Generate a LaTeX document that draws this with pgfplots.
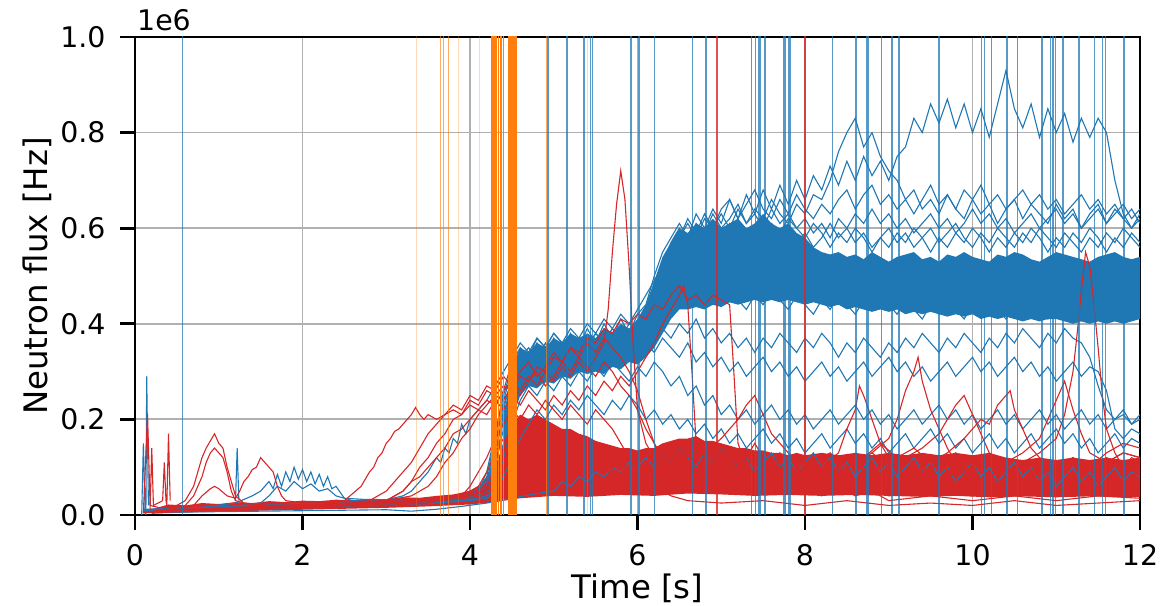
\documentclass[border=0pt]{standalone}
\usepackage{pgfplots}
\pgfplotsset{compat=1.18}
\usepgfplotslibrary{fillbetween}
\usepackage{fontspec}
\setmainfont{DejaVu Sans}
\definecolor{tabblue}{HTML}{1F77B4}
\definecolor{tabred}{HTML}{D62728}
\definecolor{taborange}{HTML}{FF7F0E}
\pgfplotsset{bl/.style={tabblue, line width=1.1bp}, rd/.style={tabred, line width=1.1bp}}
\begin{document}
\begin{tikzpicture}
\begin{axis}[
  name=ax, at={(0,0)}, anchor=south west, scale only axis,
  width=1005bp, height=478bp,
  xmin=0, xmax=12, ymin=0, ymax=1,
  xtick={0,2,4,6,8,10,12}, ytick={0,0.2,0.4,0.6,0.8,1},
  /pgf/number format/assume math mode=true,
  scaled y ticks=false,
  grid=major, grid style={color=black!31, line width=1.8bp},
  axis line style={line width=2.8bp},
  major tick length=15bp, every tick/.style={black, line width=2.8bp},
  tick align=outside, xtick pos=bottom, ytick pos=left,
  ticklabel style={font=\fontsize{28.5}{34}\selectfont},
  yticklabel style={xshift=-11bp, /pgf/number format/.cd, fixed, fixed zerofill, precision=1},
  xticklabel style={yshift=-11bp},
  label style={font=\fontsize{32.5}{38}\selectfont},
  xlabel={Time [s]}, ylabel={Neutron flux [Hz]},
  xlabel style={at={(axis description cs:0.5,-0.174)}, anchor=base},
  ylabel style={at={(axis description cs:-0.0975,0.5)}, anchor=center},
]
% ---------------- blue dense band ----------------
\addplot[draw=none, name path=bhi] coordinates {(4.4,0.2)(4.5,0.31)(4.6,0.35)(4.7,0.34)(4.8,0.36)(4.9,0.35)(5.0,0.37)(5.1,0.36)(5.2,0.38)(5.3,0.37)(5.4,0.38)(5.5,0.37)(5.6,0.39)(5.7,0.38)(5.8,0.4)(5.9,0.39)(6.0,0.41)(6.1,0.44)(6.2,0.49)(6.3,0.54)(6.4,0.57)(6.5,0.6)(6.6,0.59)(6.7,0.61)(6.8,0.6)(6.9,0.62)(7.0,0.6)(7.1,0.61)(7.2,0.62)(7.3,0.6)(7.4,0.61)(7.5,0.63)(7.6,0.61)(7.7,0.6)(7.8,0.61)(7.9,0.59)(8.0,0.58)(8.1,0.56)(8.2,0.55)(8.3,0.545)(8.4,0.55)(8.5,0.54)(8.6,0.545)(8.7,0.535)(8.8,0.55)(8.9,0.54)(9.0,0.53)(9.1,0.54)(9.2,0.545)(9.3,0.55)(9.4,0.535)(9.5,0.54)(9.6,0.53)(9.7,0.545)(9.8,0.54)(9.9,0.55)(10.0,0.54)(10.1,0.535)(10.2,0.53)(10.3,0.545)(10.4,0.54)(10.5,0.55)(10.6,0.545)(10.7,0.535)(10.8,0.53)(10.9,0.54)(11.0,0.55)(11.1,0.545)(11.2,0.54)(11.3,0.535)(11.4,0.53)(11.5,0.54)(11.6,0.545)(11.7,0.55)(11.8,0.54)(11.9,0.535)(12.0,0.54)};
\addplot[draw=none, name path=blo] coordinates {(4.4,0.12)(4.5,0.2)(4.6,0.25)(4.7,0.27)(4.8,0.265)(4.9,0.28)(5.0,0.275)(5.1,0.29)(5.2,0.285)(5.3,0.3)(5.4,0.295)(5.5,0.3)(5.6,0.295)(5.7,0.31)(5.8,0.305)(5.9,0.32)(6.0,0.315)(6.1,0.33)(6.2,0.35)(6.3,0.38)(6.4,0.41)(6.5,0.43)(6.6,0.43)(6.7,0.435)(6.8,0.43)(6.9,0.44)(7.0,0.435)(7.1,0.445)(7.2,0.44)(7.3,0.445)(7.4,0.45)(7.5,0.445)(7.6,0.45)(7.7,0.445)(7.8,0.45)(7.9,0.445)(8.0,0.44)(8.1,0.445)(8.2,0.44)(8.3,0.435)(8.4,0.44)(8.5,0.43)(8.6,0.435)(8.7,0.43)(8.8,0.425)(8.9,0.43)(9.0,0.425)(9.1,0.43)(9.2,0.42)(9.3,0.425)(9.4,0.42)(9.5,0.425)(9.6,0.42)(9.7,0.415)(9.8,0.42)(9.9,0.415)(10.0,0.42)(10.1,0.41)(10.2,0.415)(10.3,0.41)(10.4,0.415)(10.5,0.41)(10.6,0.405)(10.7,0.41)(10.8,0.405)(10.9,0.41)(11.0,0.41)(11.1,0.405)(11.2,0.4)(11.3,0.405)(11.4,0.4)(11.5,0.405)(11.6,0.4)(11.7,0.405)(11.8,0.4)(11.9,0.405)(12.0,0.41)};
\addplot[tabblue] fill between[of=bhi and blo];
% ---------------- blue lines ----------------
\addplot[bl] coordinates {(0.1,0.01)(0.4,0.012)(0.8,0.015)(1.2,0.018)(1.6,0.02)(2.0,0.022)(2.5,0.025)(3.0,0.028)(3.5,0.032)(3.9,0.038)(4.1,0.05)(4.2,0.09)(4.3,0.17)(4.4,0.25)(4.5,0.31)(4.6,0.34)(4.7,0.32)(4.8,0.36)(4.9,0.33)(5.0,0.37)(5.1,0.34)(5.2,0.38)(5.3,0.35)(5.4,0.39)(5.5,0.36)(5.6,0.4)(5.7,0.37)(5.8,0.41)(5.9,0.38)(6.0,0.42)(6.1,0.44)(6.2,0.5)(6.3,0.55)(6.4,0.58)(6.5,0.61)(6.6,0.58)(6.7,0.63)(6.8,0.6)(6.9,0.64)(7.0,0.61)(7.1,0.66)(7.2,0.62)(7.3,0.67)(7.4,0.63)(7.5,0.68)(7.6,0.64)(7.7,0.69)(7.8,0.65)(7.9,0.7)(8.0,0.66)(8.1,0.71)(8.2,0.68)(8.3,0.73)(8.4,0.69)(8.5,0.74)(8.6,0.7)(8.7,0.75)(8.8,0.71)(8.9,0.74)(9.0,0.7)(9.1,0.75)(9.2,0.77)(9.3,0.83)(9.4,0.8)(9.5,0.86)(9.6,0.82)(9.7,0.87)(9.8,0.81)(9.9,0.86)(10.0,0.8)(10.1,0.85)(10.2,0.79)(10.3,0.86)(10.4,0.93)(10.5,0.85)(10.6,0.81)(10.7,0.86)(10.8,0.79)(10.9,0.85)(11.0,0.8)(11.1,0.84)(11.2,0.78)(11.3,0.83)(11.4,0.79)(11.5,0.83)(11.6,0.8)(11.7,0.7)(11.8,0.63)(11.9,0.6)(12.0,0.62)};
\addplot[bl] coordinates {(0.1,0.008)(0.5,0.012)(1.0,0.014)(1.5,0.018)(2.0,0.02)(2.5,0.024)(3.0,0.027)(3.5,0.03)(4.0,0.036)(4.2,0.05)(4.3,0.12)(4.4,0.22)(4.5,0.29)(4.6,0.31)(4.7,0.34)(4.8,0.3)(4.9,0.33)(5.0,0.35)(5.1,0.31)(5.2,0.34)(5.3,0.37)(5.4,0.33)(5.5,0.36)(5.6,0.34)(5.7,0.38)(5.8,0.35)(5.9,0.37)(6.0,0.4)(6.1,0.43)(6.2,0.48)(6.3,0.53)(6.4,0.57)(6.5,0.6)(6.6,0.57)(6.7,0.61)(6.8,0.59)(6.9,0.63)(7.0,0.6)(7.1,0.62)(7.2,0.65)(7.3,0.61)(7.4,0.64)(7.5,0.62)(7.6,0.66)(7.7,0.63)(7.8,0.61)(7.9,0.65)(8.0,0.63)(8.1,0.67)(8.2,0.66)(8.3,0.7)(8.4,0.76)(8.5,0.8)(8.6,0.83)(8.7,0.77)(8.8,0.8)(8.9,0.75)(9.0,0.72)(9.1,0.7)(9.2,0.66)(9.3,0.68)(9.4,0.64)(9.5,0.66)(9.6,0.63)(9.7,0.67)(9.8,0.64)(9.9,0.62)(10.0,0.66)(10.1,0.63)(10.2,0.65)(10.3,0.61)(10.4,0.64)(10.5,0.66)(10.6,0.62)(10.7,0.65)(10.8,0.63)(10.9,0.61)(11.0,0.65)(11.1,0.62)(11.2,0.64)(11.3,0.6)(11.4,0.63)(11.5,0.65)(11.6,0.61)(11.7,0.64)(11.8,0.62)(11.9,0.6)(12.0,0.63)};
\addplot[bl] coordinates {(0.1,0.01)(0.5,0.013)(1.0,0.016)(1.5,0.019)(2.0,0.021)(2.5,0.023)(3.0,0.026)(3.5,0.031)(4.0,0.04)(4.2,0.06)(4.3,0.14)(4.4,0.24)(4.5,0.3)(4.6,0.33)(4.7,0.35)(4.8,0.32)(4.9,0.36)(5.0,0.33)(5.1,0.36)(5.2,0.34)(5.3,0.37)(5.4,0.35)(5.5,0.38)(5.6,0.36)(5.7,0.39)(5.8,0.37)(5.9,0.4)(6.0,0.39)(6.1,0.42)(6.2,0.47)(6.3,0.52)(6.4,0.55)(6.5,0.58)(6.6,0.62)(6.7,0.59)(6.8,0.63)(6.9,0.6)(7.0,0.64)(7.1,0.66)(7.2,0.62)(7.3,0.65)(7.4,0.68)(7.5,0.64)(7.6,0.62)(7.7,0.66)(7.8,0.63)(7.9,0.67)(8.0,0.64)(8.1,0.62)(8.2,0.65)(8.3,0.63)(8.4,0.66)(8.5,0.68)(8.6,0.64)(8.7,0.67)(8.8,0.69)(8.9,0.65)(9.0,0.67)(9.1,0.64)(9.2,0.66)(9.3,0.63)(9.4,0.66)(9.5,0.69)(9.6,0.65)(9.7,0.67)(9.8,0.64)(9.9,0.68)(10.0,0.66)(10.1,0.69)(10.2,0.65)(10.3,0.67)(10.4,0.64)(10.5,0.66)(10.6,0.68)(10.7,0.65)(10.8,0.67)(10.9,0.64)(11.0,0.66)(11.1,0.63)(11.2,0.65)(11.3,0.67)(11.4,0.64)(11.5,0.66)(11.6,0.63)(11.7,0.65)(11.8,0.62)(11.9,0.64)(12.0,0.61)};
\addplot[bl] coordinates {(0.1,0.012)(0.5,0.014)(1.0,0.017)(1.5,0.02)(2.0,0.023)(2.5,0.026)(3.0,0.029)(3.5,0.033)(4.0,0.042)(4.2,0.07)(4.3,0.15)(4.4,0.23)(4.5,0.28)(4.6,0.3)(4.7,0.28)(4.8,0.31)(4.9,0.29)(5.0,0.32)(5.1,0.3)(5.2,0.33)(5.3,0.31)(5.4,0.34)(5.5,0.32)(5.6,0.35)(5.7,0.33)(5.8,0.36)(5.9,0.34)(6.0,0.36)(6.1,0.39)(6.2,0.44)(6.3,0.49)(6.4,0.53)(6.5,0.56)(6.6,0.53)(6.7,0.57)(6.8,0.55)(6.9,0.58)(7.0,0.56)(7.1,0.54)(7.2,0.58)(7.3,0.56)(7.4,0.59)(7.5,0.57)(7.6,0.55)(7.7,0.58)(7.8,0.6)(7.9,0.57)(8.0,0.59)(8.1,0.56)(8.2,0.58)(8.3,0.61)(8.4,0.58)(8.5,0.6)(8.6,0.57)(8.7,0.59)(8.8,0.56)(8.9,0.58)(9.0,0.6)(9.1,0.57)(9.2,0.59)(9.3,0.56)(9.4,0.58)(9.5,0.6)(9.6,0.57)(9.7,0.59)(9.8,0.61)(9.9,0.58)(10.0,0.56)(10.1,0.59)(10.2,0.57)(10.3,0.6)(10.4,0.58)(10.5,0.56)(10.6,0.59)(10.7,0.57)(10.8,0.6)(10.9,0.58)(11.0,0.56)(11.1,0.59)(11.2,0.57)(11.3,0.55)(11.4,0.58)(11.5,0.56)(11.6,0.59)(11.7,0.57)(11.8,0.6)(11.9,0.58)(12.0,0.56)};
\addplot[bl] coordinates {(0.1,0.01)(1.0,0.015)(2.0,0.02)(3.0,0.027)(4.0,0.038)(4.2,0.05)(4.3,0.1)(4.4,0.2)(4.5,0.27)(4.6,0.3)(4.8,0.33)(5.0,0.31)(5.2,0.34)(5.4,0.32)(5.6,0.35)(5.8,0.33)(6.0,0.36)(6.1,0.4)(6.2,0.45)(6.3,0.51)(6.4,0.55)(6.5,0.58)(6.6,0.61)(6.7,0.58)(6.8,0.62)(6.9,0.6)(7.0,0.63)(7.1,0.6)(7.2,0.64)(7.3,0.61)(7.4,0.63)(7.5,0.6)(7.6,0.64)(7.7,0.61)(7.8,0.63)(7.9,0.6)(8.0,0.62)(8.1,0.59)(8.2,0.61)(8.3,0.58)(8.4,0.62)(8.5,0.6)(8.6,0.63)(8.7,0.61)(8.8,0.64)(8.9,0.61)(9.0,0.63)(9.1,0.6)(9.2,0.62)(9.3,0.59)(9.4,0.61)(9.5,0.63)(9.6,0.6)(9.7,0.62)(9.8,0.59)(9.9,0.61)(10.0,0.64)(10.1,0.61)(10.2,0.63)(10.3,0.6)(10.4,0.62)(10.5,0.59)(10.6,0.61)(10.7,0.63)(10.8,0.6)(10.9,0.62)(11.0,0.64)(11.1,0.61)(11.2,0.63)(11.3,0.6)(11.4,0.62)(11.5,0.64)(11.6,0.61)(11.7,0.63)(11.8,0.65)(11.9,0.62)(12.0,0.64)};
\addplot[bl] coordinates {(0.1,0.009)(0.5,0.011)(1.0,0.014)(1.5,0.025)(1.6,0.04)(1.7,0.06)(1.8,0.05)(1.9,0.07)(2.0,0.055)(2.1,0.065)(2.2,0.05)(2.3,0.055)(2.4,0.04)(2.6,0.03)(3.0,0.028)(3.5,0.033)(4.0,0.04)(4.2,0.06)(4.3,0.13)(4.4,0.21)(4.5,0.27)(4.6,0.31)(4.7,0.29)(4.8,0.32)(4.9,0.3)(5.0,0.33)(5.1,0.31)(5.2,0.35)(5.3,0.33)(5.4,0.36)(5.5,0.34)(5.6,0.37)(5.7,0.35)(5.8,0.38)(5.9,0.36)(6.0,0.38)(6.1,0.4)(6.2,0.46)(6.3,0.5)(6.4,0.54)(6.5,0.57)(6.6,0.55)(6.7,0.59)(6.8,0.57)(6.9,0.6)(7.0,0.58)(7.1,0.61)(7.2,0.59)(7.3,0.57)(7.4,0.6)(7.5,0.58)(7.6,0.61)(7.7,0.59)(7.8,0.62)(7.9,0.6)(8.0,0.58)(8.1,0.61)(8.2,0.59)(8.3,0.56)(8.4,0.59)(8.5,0.57)(8.6,0.6)(8.7,0.58)(8.8,0.55)(8.9,0.58)(9.0,0.56)(9.1,0.59)(9.2,0.57)(9.3,0.6)(9.4,0.58)(9.5,0.55)(9.6,0.58)(9.7,0.56)(9.8,0.59)(9.9,0.57)(10.0,0.6)(10.1,0.58)(10.2,0.55)(10.3,0.58)(10.4,0.56)(10.5,0.59)(10.6,0.57)(10.7,0.6)(10.8,0.58)(10.9,0.55)(11.0,0.58)(11.1,0.56)(11.2,0.59)(11.3,0.57)(11.4,0.6)(11.5,0.58)(11.6,0.55)(11.7,0.58)(11.8,0.56)(11.9,0.59)(12.0,0.57)};
\addplot[bl] coordinates {(0.1,0.01)(0.4,0.012)(0.8,0.016)(1.2,0.025)(1.4,0.04)(1.5,0.05)(1.6,0.07)(1.65,0.055)(1.7,0.085)(1.75,0.06)(1.8,0.09)(1.85,0.07)(1.9,0.1)(1.95,0.075)(2.0,0.095)(2.05,0.07)(2.1,0.09)(2.15,0.065)(2.2,0.085)(2.25,0.06)(2.3,0.08)(2.35,0.055)(2.4,0.06)(2.5,0.035)(3.0,0.03)(3.5,0.034)(4.0,0.04)(4.1,0.05)(4.2,0.08)(4.3,0.16)(4.4,0.26)(4.5,0.32)(4.6,0.35)(4.7,0.33)(4.8,0.37)(4.9,0.35)(5.0,0.38)(5.1,0.36)(5.2,0.39)(5.3,0.37)(5.4,0.4)(5.5,0.38)(5.6,0.41)(5.7,0.39)(5.8,0.42)(5.9,0.4)(6.0,0.43)(6.1,0.46)(6.2,0.49)(6.3,0.52)(6.4,0.5)(6.5,0.53)(6.6,0.5)(6.7,0.48)(6.8,0.51)(6.9,0.49)(7.0,0.52)(7.1,0.5)(7.2,0.47)(7.3,0.5)(7.4,0.48)(7.5,0.51)(7.6,0.49)(7.7,0.52)(7.8,0.5)(7.9,0.47)(8.0,0.5)(8.5,0.48)(9.0,0.5)(9.5,0.48)(10.0,0.5)(10.5,0.48)(11.0,0.5)(11.5,0.48)(12.0,0.5)};
\addplot[bl] coordinates {(0.1,0.01)(0.5,0.013)(1.0,0.016)(1.5,0.02)(2.0,0.024)(2.5,0.027)(3.0,0.032)(3.2,0.04)(3.3,0.05)(3.4,0.07)(3.5,0.09)(3.6,0.12)(3.65,0.11)(3.7,0.14)(3.75,0.13)(3.8,0.16)(3.85,0.15)(3.9,0.19)(3.95,0.17)(4.0,0.2)(4.1,0.22)(4.2,0.24)(4.3,0.27)(4.4,0.3)(4.5,0.33)(4.6,0.36)(4.7,0.34)(4.8,0.37)(4.9,0.35)(5.0,0.38)(5.1,0.36)(5.2,0.34)(5.3,0.37)(5.4,0.35)(5.5,0.38)(5.6,0.36)(5.7,0.39)(5.8,0.37)(5.9,0.35)(6.0,0.38)(6.1,0.41)(6.2,0.45)(6.3,0.48)(6.4,0.46)(6.5,0.49)(6.6,0.47)(6.7,0.45)(6.8,0.48)(6.9,0.46)(7.0,0.44)(7.1,0.47)(7.2,0.45)(7.3,0.43)(7.4,0.46)(7.5,0.44)(7.6,0.47)(7.7,0.45)(7.8,0.43)(7.9,0.46)(8.0,0.44)(8.1,0.42)(8.2,0.45)(8.3,0.43)(8.4,0.46)(8.5,0.44)(8.6,0.42)(8.7,0.45)(8.8,0.43)(8.9,0.46)(9.0,0.44)(9.1,0.42)(9.2,0.45)(9.3,0.43)(9.4,0.41)(9.5,0.44)(9.6,0.42)(9.7,0.45)(9.8,0.43)(9.9,0.41)(10.0,0.44)(10.1,0.42)(10.2,0.45)(10.3,0.43)(10.4,0.41)(10.5,0.44)(10.6,0.42)(10.7,0.45)(10.8,0.43)(10.9,0.41)(11.0,0.44)(11.1,0.42)(11.2,0.45)(11.3,0.43)(11.4,0.41)(11.5,0.44)(11.6,0.42)(11.7,0.45)(11.8,0.43)(11.9,0.41)(12.0,0.44)};
\addplot[bl] coordinates {(0.1,0.009)(0.5,0.011)(1.0,0.013)(1.5,0.016)(2.0,0.018)(2.5,0.021)(3.0,0.024)(3.5,0.028)(4.0,0.035)(4.2,0.05)(4.3,0.1)(4.4,0.18)(4.5,0.25)(4.6,0.29)(4.7,0.27)(4.8,0.3)(4.9,0.28)(5.0,0.31)(5.1,0.29)(5.2,0.32)(5.3,0.3)(5.4,0.33)(5.5,0.31)(5.6,0.34)(5.7,0.32)(5.8,0.35)(5.9,0.33)(6.0,0.35)(6.1,0.37)(6.2,0.36)(6.3,0.39)(6.4,0.37)(6.5,0.4)(6.6,0.38)(6.7,0.41)(6.8,0.37)(6.9,0.39)(7.0,0.36)(7.1,0.38)(7.2,0.35)(7.3,0.37)(7.4,0.34)(7.5,0.37)(7.6,0.35)(7.7,0.38)(7.8,0.36)(7.9,0.34)(8.0,0.37)(8.1,0.35)(8.2,0.38)(8.3,0.36)(8.4,0.33)(8.5,0.36)(8.6,0.34)(8.7,0.37)(8.8,0.35)(8.9,0.33)(9.0,0.36)(9.1,0.34)(9.2,0.37)(9.3,0.35)(9.4,0.38)(9.5,0.36)(9.6,0.34)(9.7,0.37)(9.8,0.35)(9.9,0.38)(10.0,0.36)(10.1,0.34)(10.2,0.37)(10.3,0.35)(10.4,0.38)(10.5,0.36)(10.6,0.39)(10.7,0.37)(10.8,0.35)(10.9,0.38)(11.0,0.36)(11.1,0.39)(11.2,0.37)(11.3,0.36)(11.4,0.33)(11.5,0.27)(11.6,0.22)(11.7,0.2)(11.8,0.21)(11.9,0.19)(12.0,0.2)};
\addplot[bl] coordinates {(0.1,0.01)(0.5,0.012)(1.0,0.015)(1.5,0.017)(2.0,0.02)(2.5,0.022)(3.0,0.025)(3.5,0.03)(4.0,0.037)(4.2,0.045)(4.3,0.08)(4.4,0.15)(4.5,0.22)(4.6,0.26)(4.7,0.29)(4.8,0.27)(4.9,0.3)(5.0,0.28)(5.1,0.31)(5.2,0.29)(5.3,0.32)(5.4,0.3)(5.5,0.33)(5.6,0.31)(5.7,0.34)(5.8,0.32)(5.9,0.35)(6.0,0.33)(6.1,0.36)(6.2,0.34)(6.3,0.37)(6.4,0.35)(6.5,0.33)(6.6,0.36)(6.7,0.32)(6.8,0.34)(6.9,0.31)(7.0,0.33)(7.1,0.3)(7.2,0.32)(7.3,0.29)(7.4,0.31)(7.5,0.33)(7.6,0.3)(7.7,0.32)(7.8,0.29)(7.9,0.31)(8.0,0.28)(8.1,0.3)(8.2,0.32)(8.3,0.29)(8.4,0.31)(8.5,0.28)(8.6,0.3)(8.7,0.32)(8.8,0.29)(8.9,0.31)(9.0,0.33)(9.1,0.3)(9.2,0.32)(9.3,0.29)(9.4,0.31)(9.5,0.28)(9.6,0.3)(9.7,0.32)(9.8,0.29)(9.9,0.31)(10.0,0.33)(10.1,0.3)(10.2,0.32)(10.3,0.29)(10.4,0.31)(10.5,0.33)(10.6,0.3)(10.7,0.32)(10.8,0.29)(10.9,0.31)(11.0,0.28)(11.1,0.3)(11.2,0.32)(11.3,0.29)(11.4,0.31)(11.5,0.3)(11.6,0.26)(11.7,0.18)(11.8,0.16)(11.9,0.18)(12.0,0.17)};
\addplot[bl] coordinates {(0.1,0.008)(0.5,0.01)(1.0,0.012)(1.5,0.014)(2.0,0.017)(2.5,0.019)(3.0,0.022)(3.5,0.026)(4.0,0.032)(4.2,0.04)(4.3,0.06)(4.4,0.12)(4.5,0.19)(4.6,0.24)(4.7,0.27)(4.8,0.25)(4.9,0.28)(5.0,0.26)(5.1,0.29)(5.2,0.27)(5.3,0.3)(5.4,0.28)(5.5,0.31)(5.6,0.29)(5.7,0.32)(5.8,0.3)(5.9,0.28)(6.0,0.31)(6.1,0.29)(6.2,0.32)(6.3,0.3)(6.4,0.27)(6.5,0.29)(6.6,0.25)(6.7,0.27)(6.8,0.23)(6.9,0.25)(7.0,0.21)(7.1,0.23)(7.2,0.2)(7.3,0.22)(7.4,0.19)(7.5,0.21)(7.6,0.23)(7.7,0.2)(7.8,0.22)(7.9,0.19)(8.0,0.21)(8.1,0.18)(8.2,0.2)(8.3,0.22)(8.4,0.19)(8.5,0.21)(8.6,0.23)(8.7,0.2)(8.8,0.22)(8.9,0.19)(9.0,0.21)(9.1,0.18)(9.2,0.2)(9.3,0.22)(9.4,0.19)(9.5,0.21)(9.6,0.23)(9.7,0.2)(9.8,0.22)(9.9,0.19)(10.0,0.21)(10.1,0.18)(10.2,0.2)(10.3,0.22)(10.4,0.19)(10.5,0.21)(10.6,0.18)(10.7,0.2)(10.8,0.22)(10.9,0.19)(11.0,0.21)(11.1,0.18)(11.2,0.2)(11.3,0.22)(11.4,0.19)(11.5,0.21)(11.6,0.18)(11.7,0.2)(11.8,0.22)(11.9,0.19)(12.0,0.21)};
\addplot[bl] coordinates {(0.1,0.007)(0.5,0.009)(1.0,0.011)(1.5,0.013)(2.0,0.015)(2.5,0.017)(3.0,0.02)(3.5,0.024)(4.0,0.03)(4.2,0.035)(4.3,0.05)(4.4,0.08)(4.5,0.12)(4.6,0.16)(4.7,0.19)(4.8,0.22)(4.9,0.2)(5.0,0.23)(5.1,0.21)(5.2,0.24)(5.3,0.22)(5.4,0.25)(5.5,0.23)(5.6,0.21)(5.7,0.24)(5.8,0.22)(5.9,0.25)(6.0,0.23)(6.1,0.2)(6.2,0.22)(6.3,0.19)(6.4,0.21)(6.5,0.18)(6.6,0.2)(6.7,0.17)(6.8,0.19)(6.9,0.16)(7.0,0.18)(7.1,0.15)(7.2,0.17)(7.3,0.14)(7.4,0.16)(7.5,0.18)(7.6,0.15)(7.7,0.17)(7.8,0.14)(7.9,0.16)(8.0,0.13)(8.1,0.15)(8.2,0.17)(8.3,0.14)(8.4,0.16)(8.5,0.18)(8.6,0.15)(8.7,0.17)(8.8,0.14)(8.9,0.16)(9.0,0.13)(9.1,0.15)(9.2,0.17)(9.3,0.14)(9.4,0.16)(9.5,0.18)(9.6,0.15)(9.7,0.17)(9.8,0.14)(9.9,0.16)(10.0,0.13)(10.1,0.15)(10.2,0.17)(10.3,0.14)(10.4,0.16)(10.5,0.13)(10.6,0.15)(10.7,0.17)(10.8,0.14)(10.9,0.16)(11.0,0.18)(11.1,0.15)(11.2,0.17)(11.3,0.14)(11.4,0.16)(11.5,0.13)(11.6,0.15)(11.7,0.17)(11.8,0.14)(11.9,0.16)(12.0,0.15)};
\addplot[bl] coordinates {(0.1,0.005)(0.5,0.006)(1.0,0.007)(1.5,0.008)(2.0,0.009)(2.5,0.01)(3.0,0.011)(3.3,0.008)(3.6,0.012)(3.9,0.018)(4.2,0.025)(4.5,0.035)(4.8,0.045)(5.0,0.05)(5.1,0.07)(5.2,0.06)(5.3,0.08)(5.4,0.07)(5.5,0.09)(5.6,0.08)(5.7,0.1)(5.8,0.09)(5.9,0.11)(6.0,0.1)(6.1,0.12)(6.2,0.1)(6.3,0.13)(6.4,0.11)(6.5,0.14)(6.6,0.12)(6.7,0.1)(6.8,0.13)(6.9,0.11)(7.0,0.14)(7.1,0.12)(7.2,0.1)(7.3,0.12)(7.4,0.09)(7.5,0.11)(7.6,0.13)(7.7,0.1)(7.8,0.12)(7.9,0.09)(8.0,0.11)(8.1,0.13)(8.2,0.1)(8.3,0.12)(8.4,0.09)(8.5,0.11)(8.6,0.08)(8.7,0.1)(8.8,0.12)(8.9,0.09)(9.0,0.11)(9.1,0.08)(9.2,0.1)(9.3,0.12)(9.4,0.09)(9.5,0.11)(9.6,0.08)(9.7,0.1)(9.8,0.07)(9.9,0.09)(10.0,0.11)(10.1,0.08)(10.2,0.1)(10.3,0.07)(10.4,0.09)(10.5,0.11)(10.6,0.08)(10.7,0.1)(10.8,0.07)(10.9,0.09)(11.0,0.06)(11.1,0.08)(11.2,0.1)(11.3,0.07)(11.4,0.09)(11.5,0.06)(11.6,0.08)(11.7,0.1)(11.8,0.07)(11.9,0.09)(12.0,0.08)};
\addplot[bl] coordinates {(0.08,0.0)(0.1,0.15)(0.12,0.01)(0.13,0.0)(0.14,0.29)(0.16,0.02)};
\addplot[bl] coordinates {(1.2,0.03)(1.22,0.14)(1.24,0.03)};
% ---------------- red dense band ----------------
\addplot[draw=none, name path=rhi] coordinates {(0.2,0.012)(0.4,0.022)(0.6,0.02)(0.8,0.025)(1.0,0.023)(1.2,0.027)(1.4,0.025)(1.6,0.029)(1.8,0.027)(2.0,0.03)(2.2,0.029)(2.4,0.032)(2.6,0.031)(2.8,0.034)(3.0,0.033)(3.2,0.037)(3.4,0.036)(3.6,0.04)(3.8,0.043)(4.0,0.05)(4.1,0.06)(4.2,0.08)(4.3,0.1)(4.4,0.15)(4.5,0.19)(4.6,0.21)(4.7,0.2)(4.8,0.21)(4.9,0.2)(5.0,0.19)(5.1,0.18)(5.2,0.18)(5.3,0.17)(5.4,0.165)(5.5,0.155)(5.6,0.15)(5.7,0.145)(5.8,0.14)(5.9,0.14)(6.0,0.135)(6.1,0.14)(6.2,0.14)(6.3,0.15)(6.4,0.155)(6.5,0.16)(6.6,0.16)(6.7,0.165)(6.8,0.155)(6.9,0.155)(7.0,0.15)(7.1,0.145)(7.2,0.14)(7.3,0.14)(7.4,0.135)(7.5,0.135)(7.6,0.13)(7.7,0.13)(7.8,0.125)(7.9,0.13)(8.0,0.125)(8.2,0.13)(8.4,0.125)(8.6,0.13)(8.8,0.125)(9.0,0.13)(9.2,0.125)(9.4,0.13)(9.6,0.125)(9.8,0.13)(10.0,0.125)(10.2,0.13)(10.4,0.12)(10.6,0.115)(10.8,0.12)(11.0,0.115)(11.2,0.12)(11.4,0.115)(11.6,0.12)(11.8,0.115)(12.0,0.12)};
\addplot[draw=none, name path=rlo] coordinates {(0.2,0.003)(0.6,0.005)(1.0,0.007)(1.5,0.009)(2.0,0.011)(2.5,0.013)(3.0,0.015)(3.5,0.018)(4.0,0.022)(4.3,0.027)(4.6,0.035)(5.0,0.04)(5.4,0.038)(5.8,0.042)(6.2,0.04)(6.6,0.045)(7.0,0.043)(7.4,0.04)(7.8,0.042)(8.2,0.04)(8.6,0.042)(9.0,0.04)(9.4,0.038)(9.8,0.04)(10.2,0.037)(10.6,0.039)(11.0,0.037)(11.4,0.039)(11.8,0.037)(12.0,0.038)};
\addplot[tabred] fill between[of=rhi and rlo];
% ---------------- red lines ----------------
\addplot[rd] coordinates {(0.1,0.005)(0.15,0.21)(0.18,0.02)(0.3,0.015)(0.5,0.02)(0.6,0.03)(0.7,0.06)(0.75,0.09)(0.8,0.12)(0.85,0.14)(0.9,0.155)(0.95,0.17)(1.0,0.15)(1.05,0.14)(1.1,0.1)(1.15,0.07)(1.2,0.04)(1.3,0.025)(1.6,0.02)(2.0,0.022)(2.5,0.024)(3.0,0.027)(3.5,0.033)(4.0,0.045)(4.2,0.06)(4.3,0.1)(4.4,0.14)(4.5,0.17)(4.6,0.15)(4.7,0.18)(4.8,0.14)(4.9,0.12)(5.0,0.15)(5.1,0.11)(5.2,0.13)(5.3,0.1)(5.4,0.12)(5.5,0.09)(5.6,0.11)(5.7,0.08)(5.8,0.1)(5.9,0.07)(6.0,0.09)(6.1,0.11)(6.2,0.08)(6.3,0.1)(6.4,0.12)(6.5,0.09)(6.6,0.11)(6.7,0.08)(6.8,0.1)(6.9,0.07)(7.0,0.09)(7.1,0.06)(7.2,0.08)(7.3,0.1)(7.4,0.07)(7.5,0.09)(7.6,0.06)(7.7,0.08)(7.8,0.1)(7.9,0.07)(8.0,0.09)(8.2,0.06)(8.4,0.08)(8.6,0.05)(8.8,0.07)(9.0,0.09)(9.2,0.06)(9.4,0.08)(9.6,0.05)(9.8,0.07)(10.0,0.09)(10.2,0.06)(10.4,0.08)(10.6,0.05)(10.8,0.07)(11.0,0.09)(11.2,0.06)(11.4,0.08)(11.6,0.05)(11.8,0.07)(12.0,0.06)};
\addplot[rd] coordinates {(0.2,0.005)(0.4,0.01)(0.6,0.02)(0.7,0.04)(0.8,0.08)(0.85,0.11)(0.9,0.13)(0.95,0.14)(1.0,0.13)(1.05,0.12)(1.1,0.09)(1.15,0.05)(1.2,0.03)(1.4,0.02)(2.0,0.02)(2.5,0.022)(3.0,0.03)(3.3,0.04)(3.5,0.06)(3.6,0.08)(3.7,0.11)(3.8,0.13)(3.9,0.16)(4.0,0.18)(4.1,0.21)(4.2,0.23)(4.3,0.25)(4.4,0.24)(4.5,0.27)(4.6,0.25)(4.7,0.28)(4.8,0.3)(4.9,0.27)(5.0,0.29)(5.1,0.32)(5.2,0.3)(5.3,0.33)(5.4,0.31)(5.5,0.29)(5.6,0.32)(5.7,0.3)(5.8,0.27)(5.9,0.25)(6.0,0.22)(6.1,0.18)(6.2,0.15)(6.3,0.12)(6.4,0.1)(6.5,0.08)(6.6,0.1)(6.8,0.07)(7.0,0.09)(7.2,0.06)(7.4,0.08)(7.6,0.05)(7.8,0.07)(8.0,0.05)(8.2,0.04)(8.4,0.06)(8.6,0.04)(8.8,0.05)(9.0,0.03)(9.5,0.04)(10.0,0.03)(10.5,0.04)(11.0,0.03)(11.5,0.04)(12.0,0.035)};
\addplot[rd] coordinates {(0.1,0.005)(0.3,0.01)(0.5,0.015)(0.7,0.02)(0.8,0.04)(0.9,0.055)(0.95,0.06)(1.0,0.055)(1.1,0.04)(1.2,0.035)(1.25,0.05)(1.3,0.07)(1.35,0.08)(1.4,0.095)(1.45,0.1)(1.5,0.12)(1.55,0.11)(1.6,0.1)(1.65,0.09)(1.7,0.06)(1.75,0.04)(1.8,0.03)(2.0,0.025)(2.5,0.027)(3.0,0.03)(3.5,0.035)(3.8,0.04)(4.0,0.05)(4.1,0.06)(4.2,0.09)(4.3,0.13)(4.4,0.16)(4.5,0.14)(4.6,0.18)(4.7,0.15)(4.8,0.12)(4.9,0.14)(5.0,0.11)(5.1,0.13)(5.2,0.1)(5.3,0.12)(5.4,0.09)(5.5,0.11)(5.6,0.13)(5.7,0.1)(5.8,0.12)(5.9,0.09)(6.0,0.11)(6.1,0.08)(6.2,0.1)(6.3,0.13)(6.4,0.11)(6.5,0.14)(6.6,0.12)(6.7,0.16)(6.8,0.13)(6.9,0.11)(7.0,0.14)(7.1,0.12)(7.2,0.1)(7.3,0.12)(7.4,0.15)(7.5,0.12)(7.6,0.1)(7.7,0.13)(7.8,0.11)(7.9,0.09)(8.0,0.12)(8.2,0.1)(8.4,0.13)(8.5,0.18)(8.6,0.22)(8.65,0.27)(8.7,0.25)(8.8,0.2)(8.9,0.15)(9.0,0.12)(9.1,0.1)(9.2,0.12)(9.4,0.09)(9.6,0.11)(9.8,0.08)(10.0,0.1)(10.2,0.12)(10.4,0.09)(10.6,0.11)(10.8,0.08)(11.0,0.1)(11.2,0.12)(11.4,0.09)(11.6,0.11)(11.8,0.13)(12.0,0.12)};
\addplot[rd] coordinates {(0.1,0.005)(0.5,0.012)(1.0,0.015)(1.5,0.018)(2.0,0.02)(2.3,0.022)(2.5,0.03)(2.6,0.045)(2.7,0.06)(2.75,0.075)(2.8,0.09)(2.85,0.1)(2.9,0.12)(2.95,0.13)(3.0,0.15)(3.05,0.16)(3.1,0.175)(3.15,0.18)(3.2,0.19)(3.25,0.2)(3.3,0.21)(3.35,0.225)(3.4,0.21)(3.45,0.2)(3.5,0.21)(3.6,0.2)(3.7,0.21)(3.8,0.22)(3.9,0.21)(4.0,0.23)(4.1,0.22)(4.2,0.24)(4.3,0.23)(4.4,0.26)(4.5,0.28)(4.6,0.26)(4.7,0.29)(4.8,0.27)(4.9,0.3)(5.0,0.28)(5.1,0.31)(5.2,0.29)(5.3,0.32)(5.4,0.3)(5.5,0.33)(5.6,0.36)(5.65,0.43)(5.7,0.55)(5.75,0.65)(5.8,0.72)(5.85,0.66)(5.9,0.52)(5.95,0.35)(6.0,0.22)(6.1,0.15)(6.2,0.12)(6.3,0.1)(6.4,0.12)(6.5,0.09)(6.7,0.11)(6.9,0.08)(7.1,0.1)(7.3,0.07)(7.5,0.09)(7.7,0.06)(7.9,0.08)(8.1,0.05)(8.3,0.07)(8.5,0.05)(8.7,0.06)(9.0,0.04)(9.5,0.05)(10.0,0.04)(10.5,0.05)(11.0,0.04)(11.5,0.05)(12.0,0.045)};
\addplot[rd] coordinates {(0.1,0.005)(0.5,0.01)(1.0,0.014)(1.5,0.017)(2.0,0.02)(2.5,0.024)(3.0,0.03)(3.2,0.05)(3.3,0.07)(3.4,0.1)(3.5,0.12)(3.6,0.15)(3.7,0.17)(3.8,0.2)(3.9,0.21)(4.0,0.24)(4.1,0.23)(4.2,0.26)(4.3,0.25)(4.4,0.27)(4.5,0.26)(4.6,0.29)(4.7,0.28)(4.8,0.31)(4.9,0.3)(5.0,0.33)(5.1,0.32)(5.2,0.35)(5.3,0.34)(5.4,0.37)(5.5,0.36)(5.6,0.39)(5.7,0.38)(5.8,0.41)(5.9,0.4)(6.0,0.42)(6.1,0.41)(6.2,0.44)(6.3,0.43)(6.4,0.46)(6.5,0.48)(6.6,0.45)(6.7,0.46)(6.8,0.44)(6.9,0.46)(7.0,0.45)(7.1,0.44)(7.15,0.3)(7.2,0.15)(7.3,0.1)(7.5,0.08)(7.7,0.1)(7.9,0.07)(8.1,0.09)(8.3,0.06)(8.5,0.08)(8.7,0.05)(9.0,0.07)(9.3,0.05)(9.6,0.07)(10.0,0.05)(10.5,0.06)(11.0,0.05)(11.5,0.06)(12.0,0.05)};
\addplot[rd] coordinates {(0.1,0.005)(0.5,0.01)(1.0,0.013)(1.5,0.016)(2.0,0.019)(2.5,0.022)(2.8,0.025)(3.0,0.03)(3.1,0.04)(3.2,0.05)(3.3,0.07)(3.4,0.08)(3.5,0.1)(3.6,0.12)(3.7,0.14)(3.8,0.17)(3.9,0.18)(4.0,0.2)(4.1,0.22)(4.2,0.21)(4.3,0.24)(4.4,0.22)(4.5,0.25)(4.6,0.23)(4.7,0.26)(4.8,0.24)(4.9,0.22)(5.0,0.25)(5.1,0.23)(5.2,0.26)(5.3,0.24)(5.4,0.27)(5.5,0.25)(5.6,0.28)(5.7,0.26)(5.8,0.29)(5.9,0.27)(6.0,0.3)(6.1,0.33)(6.2,0.36)(6.3,0.4)(6.4,0.43)(6.5,0.46)(6.55,0.48)(6.6,0.44)(6.65,0.3)(6.7,0.15)(6.8,0.12)(6.9,0.14)(7.0,0.11)(7.2,0.13)(7.4,0.1)(7.6,0.12)(7.8,0.09)(8.0,0.11)(8.2,0.08)(8.4,0.1)(8.6,0.07)(8.8,0.09)(9.0,0.11)(9.2,0.08)(9.4,0.1)(9.6,0.07)(9.8,0.09)(10.0,0.11)(10.2,0.08)(10.4,0.1)(10.6,0.07)(10.8,0.09)(11.0,0.11)(11.2,0.08)(11.4,0.1)(11.6,0.12)(11.8,0.1)(12.0,0.12)};
\addplot[rd] coordinates {(0.2,0.005)(0.6,0.01)(1.0,0.012)(1.5,0.015)(2.0,0.018)(2.5,0.02)(3.0,0.025)(3.5,0.03)(4.0,0.04)(4.2,0.05)(4.3,0.08)(4.4,0.12)(4.5,0.1)(4.6,0.13)(4.7,0.11)(4.8,0.14)(4.9,0.12)(5.0,0.1)(5.2,0.12)(5.4,0.09)(5.6,0.11)(5.8,0.08)(6.0,0.1)(6.2,0.07)(6.4,0.09)(6.6,0.11)(6.8,0.08)(7.0,0.1)(7.2,0.12)(7.4,0.09)(7.6,0.11)(7.8,0.08)(8.0,0.1)(8.2,0.12)(8.4,0.09)(8.6,0.11)(8.8,0.13)(9.0,0.16)(9.1,0.2)(9.2,0.26)(9.3,0.3)(9.35,0.33)(9.4,0.28)(9.5,0.22)(9.6,0.18)(9.7,0.14)(9.8,0.11)(10.0,0.09)(10.2,0.11)(10.4,0.08)(10.6,0.1)(10.8,0.07)(11.0,0.09)(11.2,0.11)(11.4,0.08)(11.6,0.1)(11.8,0.07)(12.0,0.09)};
\addplot[rd] coordinates {(0.2,0.006)(0.6,0.01)(1.0,0.013)(1.5,0.016)(2.0,0.019)(2.5,0.021)(3.0,0.026)(3.5,0.032)(4.0,0.042)(4.2,0.055)(4.3,0.07)(4.4,0.1)(4.5,0.13)(4.6,0.11)(4.7,0.14)(4.8,0.12)(4.9,0.15)(5.0,0.13)(5.1,0.11)(5.3,0.13)(5.5,0.1)(5.7,0.12)(5.9,0.09)(6.1,0.11)(6.3,0.13)(6.5,0.1)(6.7,0.12)(6.9,0.09)(7.1,0.11)(7.3,0.13)(7.5,0.1)(7.7,0.12)(7.9,0.09)(8.1,0.11)(8.3,0.13)(8.5,0.1)(8.7,0.12)(8.9,0.15)(9.1,0.12)(9.3,0.14)(9.5,0.11)(9.7,0.13)(9.9,0.16)(10.0,0.18)(10.1,0.2)(10.2,0.19)(10.3,0.23)(10.4,0.25)(10.45,0.26)(10.5,0.22)(10.6,0.18)(10.7,0.14)(10.8,0.12)(11.0,0.1)(11.2,0.12)(11.4,0.1)(11.6,0.13)(11.8,0.15)(12.0,0.14)};
\addplot[rd] coordinates {(0.2,0.006)(0.6,0.011)(1.0,0.013)(1.5,0.015)(2.0,0.018)(2.5,0.02)(3.0,0.024)(3.5,0.03)(4.0,0.04)(4.2,0.05)(4.3,0.09)(4.4,0.13)(4.5,0.16)(4.6,0.14)(4.7,0.17)(4.8,0.15)(4.9,0.13)(5.0,0.15)(5.2,0.12)(5.4,0.14)(5.6,0.11)(5.8,0.13)(6.0,0.1)(6.2,0.12)(6.4,0.14)(6.6,0.11)(6.8,0.13)(7.0,0.1)(7.2,0.12)(7.4,0.09)(7.6,0.11)(7.8,0.08)(8.0,0.1)(8.2,0.12)(8.4,0.09)(8.6,0.11)(8.8,0.08)(9.0,0.1)(9.2,0.12)(9.4,0.09)(9.6,0.11)(9.8,0.13)(10.0,0.1)(10.2,0.12)(10.4,0.09)(10.6,0.11)(10.8,0.13)(11.0,0.16)(11.1,0.21)(11.2,0.3)(11.25,0.38)(11.3,0.47)(11.35,0.55)(11.4,0.52)(11.45,0.44)(11.5,0.35)(11.55,0.25)(11.6,0.18)(11.7,0.13)(11.8,0.1)(11.9,0.12)(12.0,0.11)};
\addplot[rd] coordinates {(0.2,0.005)(0.6,0.009)(1.0,0.011)(1.5,0.014)(2.0,0.016)(2.5,0.019)(3.0,0.023)(3.5,0.028)(4.0,0.036)(4.2,0.045)(4.3,0.06)(4.4,0.09)(4.5,0.12)(4.6,0.1)(4.7,0.13)(4.8,0.11)(5.0,0.13)(5.2,0.1)(5.4,0.12)(5.6,0.09)(5.8,0.11)(6.0,0.08)(6.2,0.1)(6.4,0.12)(6.6,0.15)(6.8,0.13)(7.0,0.16)(7.2,0.2)(7.3,0.23)(7.4,0.25)(7.5,0.21)(7.6,0.17)(7.8,0.13)(8.0,0.1)(8.2,0.12)(8.4,0.09)(8.6,0.11)(8.8,0.13)(9.0,0.1)(9.2,0.12)(9.4,0.14)(9.6,0.17)(9.7,0.2)(9.8,0.23)(9.9,0.25)(10.0,0.21)(10.1,0.17)(10.2,0.13)(10.4,0.11)(10.6,0.13)(10.8,0.16)(10.9,0.2)(11.0,0.24)(11.1,0.28)(11.2,0.22)(11.3,0.17)(11.4,0.13)(11.6,0.11)(11.8,0.13)(12.0,0.12)};
\addplot[rd] coordinates {(0.2,0.004)(0.6,0.008)(1.0,0.01)(1.5,0.012)(2.0,0.014)(2.5,0.016)(3.0,0.02)(3.5,0.025)(3.9,0.04)(4.0,0.06)(4.1,0.09)(4.2,0.12)(4.3,0.16)(4.4,0.19)(4.5,0.22)(4.6,0.2)(4.7,0.23)(4.8,0.21)(4.9,0.24)(5.0,0.22)(5.1,0.2)(5.2,0.23)(5.3,0.21)(5.4,0.19)(5.5,0.22)(5.6,0.2)(5.7,0.18)(5.8,0.15)(5.9,0.12)(6.0,0.09)(6.2,0.06)(6.4,0.04)(6.6,0.03)(7.0,0.025)(7.5,0.03)(8.0,0.02)(8.5,0.03)(9.0,0.02)(9.5,0.025)(10.0,0.02)(10.5,0.03)(11.0,0.02)(11.5,0.025)(12.0,0.03)};
\addplot[rd] coordinates {(0.2,0.005)(0.6,0.01)(1.0,0.013)(1.5,0.016)(2.0,0.019)(2.5,0.023)(2.8,0.03)(3.0,0.05)(3.1,0.07)(3.2,0.09)(3.3,0.11)(3.4,0.14)(3.5,0.17)(3.6,0.19)(3.7,0.21)(3.8,0.23)(3.9,0.22)(4.0,0.25)(4.1,0.24)(4.2,0.27)(4.3,0.26)(4.4,0.29)(4.5,0.27)(4.6,0.3)(4.7,0.32)(4.8,0.29)(4.9,0.31)(5.0,0.34)(5.1,0.32)(5.2,0.35)(5.3,0.33)(5.4,0.36)(5.5,0.34)(5.6,0.37)(5.7,0.35)(5.8,0.33)(5.9,0.3)(6.0,0.26)(6.1,0.2)(6.2,0.15)(6.3,0.11)(6.4,0.09)(6.6,0.11)(6.8,0.08)(7.0,0.1)(7.2,0.07)(7.4,0.09)(7.6,0.06)(7.8,0.08)(8.0,0.06)(8.5,0.07)(9.0,0.05)(9.5,0.06)(10.0,0.05)(10.5,0.06)(11.0,0.05)(11.5,0.06)(12.0,0.05)};
\addplot[rd] coordinates {(0.18,0.01)(0.2,0.14)(0.22,0.02)(0.33,0.03)(0.35,0.11)(0.37,0.03)(0.38,0.02)(0.4,0.17)(0.42,0.03)};
% ---------------- vertical spikes ----------------
\addplot[ycomb, taborange, opacity=0.3, line width=1.3bp] coordinates {(3.36,1.1)(3.86,1.1)(4.11,1.1)(5.40,1.1)};
\addplot[ycomb, taborange, opacity=0.65, line width=1.3bp] coordinates {(3.65,1.1)(3.68,1.1)(3.74,1.1)(4.91,1.1)};
\addplot[ycomb, taborange, line width=1.5bp] coordinates {(4.26,1.1)(4.285,1.1)(4.31,1.1)(4.34,1.1)(4.37,1.1)(4.40,1.1)(4.46,1.1)(4.475,1.1)(4.49,1.1)(4.505,1.1)(4.52,1.1)(4.535,1.1)(4.55,1.1)};
\addplot[ycomb, tabblue, opacity=0.75, line width=1.4bp] coordinates {(0.57,1.1)(4.93,1.1)(5.16,1.1)(5.36,1.1)(5.44,1.1)(5.46,1.1)(5.92,1.1)(6.02,1.1)(6.20,1.1)(6.66,1.1)(6.82,1.1)(7.36,1.1)(7.41,1.1)(7.45,1.1)(7.47,1.1)(7.52,1.1)(7.74,1.1)(7.76,1.1)(7.81,1.1)(7.83,1.1)(8.33,1.1)(8.61,1.1)(8.74,1.1)(8.75,1.1)(8.91,1.1)(9.04,1.1)(9.12,1.1)(9.60,1.1)(10.11,1.1)(10.14,1.1)(10.23,1.1)(10.41,1.1)(10.54,1.1)(10.83,1.1)(10.93,1.1)(10.96,1.1)(10.99,1.1)(11.08,1.1)(11.27,1.1)(11.46,1.1)(11.55,1.1)(11.59,1.1)(11.81,1.1)};
\addplot[ycomb, tabred, opacity=0.8, line width=1.6bp] coordinates {(6.95,1.1)(8.0,1.1)};
\end{axis}
\node[anchor=base west, inner sep=0pt, font=\fontsize{28.5}{34}\selectfont] at ([xshift=2bp, yshift=6bp]ax.north west) {1e6};
\pgfresetboundingbox
\path[use as bounding box] (-135bp,-91bp) rectangle (1028bp,515bp);
\end{tikzpicture}
\end{document}
